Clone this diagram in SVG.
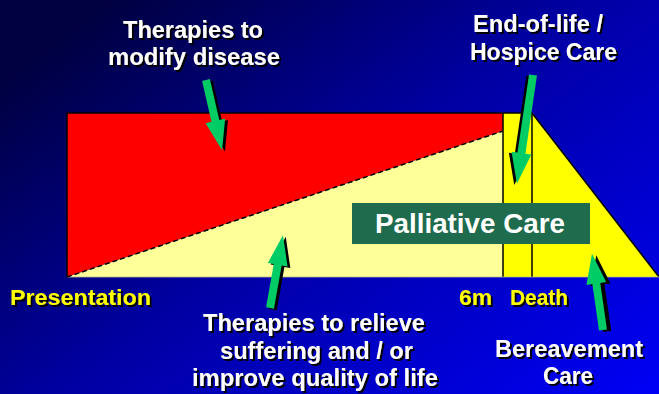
<svg xmlns="http://www.w3.org/2000/svg" width="659" height="394" viewBox="0 0 659 394">
<defs>
<linearGradient id="bg" x1="0" y1="0.2" x2="1" y2="1">
<stop offset="0" stop-color="#000040"/>
<stop offset="0.45" stop-color="#0000a4"/>
<stop offset="1" stop-color="#0000f6"/>
</linearGradient>
<filter id="sh" x="-10%" y="-10%" width="130%" height="150%">
<feDropShadow dx="2" dy="2" stdDeviation="0" flood-color="#000" flood-opacity="1"/>
</filter>
</defs>
<style>
.lbl{font-family:"Liberation Sans",Arial,sans-serif;font-weight:bold;fill:#fff;filter:url(#sh)}
.yl{font-family:"Liberation Sans",Arial,sans-serif;font-weight:bold;fill:#ffff00;filter:url(#sh)}
.arrow{fill:#00cc66}
.arrowsh{fill:#000}
.edge{fill:none;stroke:#000;stroke-width:1.5}
</style>
<rect width="659" height="394" fill="url(#bg)"/>
<g id="chart">
<polygon points="67,113 503,113 503,131 67,277" fill="#ff0000"/>
<polygon points="67,277 503,131 503,277" fill="#ffff99"/>
<rect x="503" y="113" width="29" height="164" fill="#ffff00"/>
<polygon points="532,113 659,277 532,277" fill="#ffff00"/>
<path class="edge" d="M67,277 L67,113 L532,113"/>
<line class="edge" x1="503" y1="113" x2="503" y2="277" stroke-width="1.2"/>
<line class="edge" x1="532" y1="113" x2="532" y2="277" stroke-width="1.2"/>
<line class="edge" x1="532" y1="113" x2="659" y2="277" stroke-width="1.2"/>
<line x1="67" y1="277" x2="659" y2="277" stroke="#b8b890" stroke-width="0.8"/>
<line x1="67" y1="277" x2="503" y2="131" stroke="#000" stroke-width="1.5" stroke-dasharray="5,3"/>
</g>
<g id="palliative">
<rect x="352" y="203" width="238" height="41" fill="#1e6b4e"/>
<text x="375" y="233" font-family="Liberation Sans,Arial,sans-serif" font-weight="bold" font-size="27" fill="#fff" textLength="190" lengthAdjust="spacingAndGlyphs">Palliative Care</text>
</g>
<g id="labels">
<text class="lbl" font-size="24"><tspan x="123" y="38" textLength="140" lengthAdjust="spacingAndGlyphs">Therapies to</tspan><tspan x="108" y="65" textLength="172" lengthAdjust="spacingAndGlyphs">modify disease</tspan></text>
<text class="lbl" font-size="24"><tspan x="473" y="32" textLength="130" lengthAdjust="spacingAndGlyphs">End-of-life /</tspan><tspan x="470" y="60" textLength="147" lengthAdjust="spacingAndGlyphs">Hospice Care</tspan></text>
<text class="yl" font-size="22" x="10" y="305" textLength="141" lengthAdjust="spacingAndGlyphs">Presentation</text>
<text class="yl" font-size="22" x="459" y="305" textLength="33" lengthAdjust="spacingAndGlyphs">6m</text>
<text class="yl" font-size="22" x="510" y="305" textLength="58" lengthAdjust="spacingAndGlyphs">Death</text>
<text class="lbl" font-size="23"><tspan x="203" y="331" textLength="222" lengthAdjust="spacingAndGlyphs">Therapies to relieve</tspan><tspan x="220" y="359" textLength="193" lengthAdjust="spacingAndGlyphs">suffering and / or</tspan><tspan x="192" y="386" textLength="246" lengthAdjust="spacingAndGlyphs">improve quality of life</tspan></text>
<text class="lbl" font-size="23"><tspan x="495" y="357" textLength="148" lengthAdjust="spacingAndGlyphs">Bereavement</tspan><tspan x="543" y="384" textLength="50" lengthAdjust="spacingAndGlyphs">Care</tspan></text>
</g>
<g id="connectors">
<g transform="translate(206,80) rotate(167.1)"><polygon class="arrowsh" transform="translate(-2.5,-2)" points="-4,0 4,0 4,-42 10,-42 0,-72 -10,-42 -4,-42"/><polygon class="arrow" points="-4,0 4,0 4,-42 10,-42 0,-72 -10,-42 -4,-42"/></g>
<g transform="translate(533,75) rotate(-171.6)"><polygon class="arrowsh" transform="translate(2.5,-1.5)" points="-4,0 4,0 4,-79 10,-79 0,-110 -10,-79 -4,-79"/><polygon class="arrow" points="-4,0 4,0 4,-79 10,-79 0,-110 -10,-79 -4,-79"/></g>
<g transform="translate(270,308) rotate(10.1)"><polygon class="arrowsh" transform="translate(3,1)" points="-4,0 4,0 4,-44 10,-44 0,-74 -10,-44 -4,-44"/><polygon class="arrow" points="-4,0 4,0 4,-44 10,-44 0,-74 -10,-44 -4,-44"/></g>
<g transform="translate(603,330) rotate(-8.2)"><polygon class="arrowsh" transform="translate(4,2)" points="-4,0 4,0 4,-47 10,-47 0,-77 -10,-47 -4,-47"/><polygon class="arrow" points="-4,0 4,0 4,-47 10,-47 0,-77 -10,-47 -4,-47"/></g>
</g>
</svg>
